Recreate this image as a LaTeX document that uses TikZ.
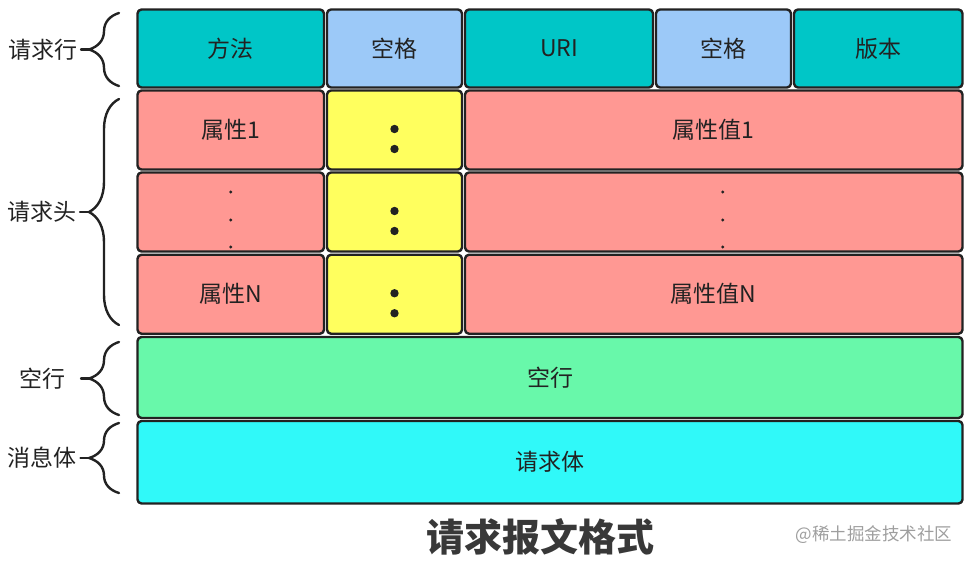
\documentclass[tikz,border=0pt]{standalone}
\usepackage{fontspec}
\setmainfont{Noto Sans CJK SC}
\usetikzlibrary{decorations.pathreplacing}
\definecolor{ink}{HTML}{222222}
\definecolor{reqline}{HTML}{00C6C7}
\definecolor{gapc}{HTML}{9CC9F8}
\definecolor{attr}{HTML}{FF9893}
\definecolor{colonc}{HTML}{FFFF5E}
\definecolor{blankc}{HTML}{68F8AA}
\definecolor{bodyc}{HTML}{30F9F9}
\begin{document}
\begin{tikzpicture}[x=1pt,y=-1pt,line join=round,line cap=round,font=\fontsize{23}{26}\selectfont]
    \useasboundingbox (0,0) rectangle (972,562);
    \tikzset{cell/.style={draw=ink,line width=2.4pt,rounded corners=4pt,inner sep=0pt,text=ink},
             brace/.style={draw=ink,line width=2.4pt,decorate,decoration={brace,amplitude=30pt,aspect=0.5}},
             wire/.style={draw=ink,line width=2.4pt}}
    \def \hA{78}
    \def \hB{79}
    \foreach \name/\cx/\w/\c/\t in {method/230.75/186.5/reqline/方法, gapA/394.5/135/gapc/空格, uri/559/188/reqline/URI, gapB/723.5/135/gapc/空格, version/878.25/168.5/reqline/版本}
        \node[cell,fill=\c,minimum width=\w pt,minimum height=\hA pt] (\name) at (\cx,48.5) {\t};
    \foreach \r/\cy/\k/\v in {1/130/属性1/属性值1, d/212/{}/{}, N/294.25/属性N/属性值N}{
        \node[cell,fill=attr,minimum width=186.5pt,minimum height=\hB pt] (key\r) at (230.75,\cy) {\k};
        \node[cell,fill=colonc,minimum width=135pt,minimum height=\hB pt] (colon\r) at (394.5,\cy) {};
        \node[cell,fill=attr,minimum width=497.5pt,minimum height=\hB pt] (val\r) at (713.75,\cy) {\v};
        \foreach \dy in {1,-19}
            \fill[ink] ([yshift=\dy pt]colon\r.center) circle (4.2pt);
    }
    \foreach \dy in {20,-8,-35}{
        \fill[ink] ([yshift=\dy pt]keyd.center) circle (1.7pt);
        \fill[ink] ([xshift=9pt,yshift=\dy pt]vald.center) circle (1.7pt);
    }
    \node[cell,fill=blankc,minimum width=825pt,minimum height=81pt] (blank) at (550,377.5) {空行};
    \node[cell,fill=bodyc,minimum width=825pt,minimum height=82.5pt] (body) at (550,462.25) {请求体};

    \node[text=ink] (lineL) at (43,49.5) {请求行};
    \node[text=ink] (headL) at (42,212) {请求头};
    \node[text=ink] (blankL) at (42.5,378.5) {空行};
    \node[text=ink] (bodyL) at (42.5,458) {消息体};
    \draw[brace] (119,86) -- (119,13);
    \draw[brace] (119,325) -- (119,99);
    \draw[brace] (119,415) -- (119,342);
    \draw[brace] (119,493) -- (119,423);
    \coordinate (lineTip) at (89,49.5);
    \coordinate (headTip) at (89,212);
    \coordinate (blankTip) at (89,378.5);
    \coordinate (bodyTip) at (89,458);
    \draw[wire] (lineL.east) -- (lineTip);
    \draw[wire] (headL.east) -- (headTip);
    \draw[wire,shorten <=12pt] (blankL.east) -- (blankTip);
    \draw[wire] (bodyL.east) -- (bodyTip);

    \node[font=\fontsize{38}{42}\selectfont\bfseries,text=ink!90] (title) at (540,537) {请求报文格式};
    \node[font=\fontsize{17.5}{20}\selectfont,text=black!38] (mark) at (874,535) {@稀土掘金技术社区};
\end{tikzpicture}
\end{document}
